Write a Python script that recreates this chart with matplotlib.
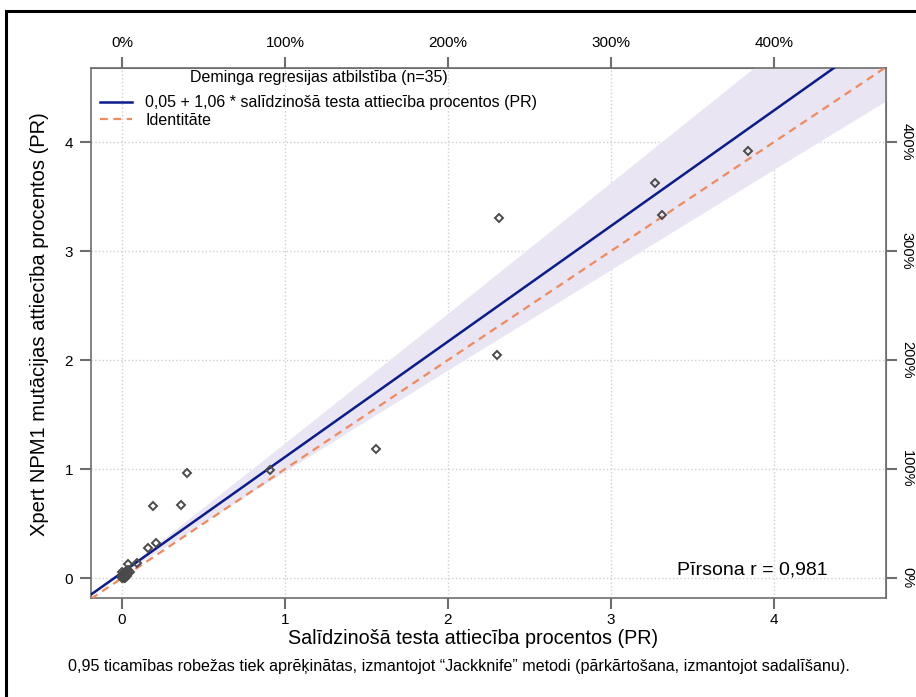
import matplotlib.pyplot as plt
import matplotlib.patches as patches
import numpy as np

# Dati (nolasīti no attēla)
px = [3.84, 3.27, 3.31, 2.31, 2.30, 1.56, 0.91, 0.40, 0.19, 0.36, 0.16, 0.21,
      0.04, 0.09, 0.00, 0.01, 0.02, 0.03, 0.00, 0.01, 0.04, 0.02, 0.05, 0.03,
      0.00, 0.01, 0.02, 0.01, 0.03, 0.00, 0.02, 0.04, 0.01, 0.03, 0.02]
py = [3.92, 3.62, 3.33, 3.30, 2.05, 1.18, 0.99, 0.96, 0.66, 0.67, 0.28, 0.32,
      0.13, 0.14, 0.06, 0.02, 0.03, 0.05, 0.00, 0.04, 0.07, 0.01, 0.06, 0.02,
      0.03, 0.00, 0.04, 0.05, 0.03, 0.01, 0.00, 0.05, 0.02, 0.04, 0.06]

intercept = 0.05
slope = 1.06
ci_x = [-0.2, 0, 1, 2, 3, 4, 4.7]
ci_hi = [-0.15, 0.06, 1.24, 2.43, 3.63, 4.83, 5.67]
ci_lo = [-0.17, 0.04, 0.98, 1.91, 2.83, 3.75, 4.39]

ticks = [0, 1, 2, 3, 4]
pct_labels = ['0%', '100%', '200%', '300%', '400%']

plt.rcParams['font.family'] = ['Liberation Sans', 'DejaVu Sans']

fig = plt.figure(figsize=(9.16, 6.97), dpi=100)
ax = fig.add_axes([91/916, 1-598/697, 795/916, 530/697])

xmin, xmax = -0.19, 4.687
ymin, ymax = -0.183, 4.679

ax.fill_between(ci_x, ci_lo, ci_hi, color='#e9e5f2', lw=0, zorder=1)
xl = np.array([xmin, xmax])
ax.plot(xl, intercept + slope * xl, color='#0b1c8c', lw=1.8, zorder=3,
        label='0,05 + 1,06 * salīdzinošā testa attiecība procentos (PR)')
ax.plot(xl, xl, color='#f08a5d', lw=1.6, ls=(0, (3.5, 2.5)), zorder=3,
        label='Identitāte')
ax.plot(px, py, 'D', ms=4.5, mfc='none', mec='#4a4a4a', mew=1.4, zorder=4)

ax.set_xlim(xmin, xmax)
ax.set_ylim(ymin, ymax)
ax.set_xticks(ticks)
ax.set_yticks(ticks)
ax.grid(True, ls=':', color='#cfcfcf', lw=1)
ax.set_axisbelow(True)

for s in ax.spines.values():
    s.set_color('#6e6e6e')
    s.set_linewidth(1.2)
ax.tick_params(direction='out', length=8, width=1.5, color='#6e6e6e', pad=5,
               labelsize=11)
ax.tick_params(axis='x', pad=3)

top = ax.secondary_xaxis('top')
top.set_xticks(ticks)
top.set_xticklabels(pct_labels, fontsize=11)
top.tick_params(direction='out', length=8, width=1.5, color='#6e6e6e', pad=5)
top.spines['top'].set_color('#6e6e6e')

right = ax.secondary_yaxis('right')
right.set_yticks(ticks)
right.set_yticklabels(pct_labels, fontsize=10.5, rotation=270, va='center')
right.tick_params(direction='out', length=8, width=1.5, color='#6e6e6e', pad=2)
right.spines['right'].set_color('#6e6e6e')

ax.set_xlabel('Salīdzinošā testa attiecība procentos (PR)', fontsize=14.2)
ax.xaxis.set_label_coords((473 - 91) / 795, -(638 - 598) / 530)
ax.xaxis.label.set_va('center')
ax.set_ylabel('Xpert NPM1 mutācijas attiecība procentos (PR)', fontsize=14.5)
ax.yaxis.set_label_coords(-(91 - 40) / 795, 1 - (324 - 68) / 530)
ax.yaxis.label.set_va('center')

leg = ax.legend(loc='upper left', bbox_to_anchor=(7 / 795, 1.0), frameon=False,
                fontsize=11.5, title='Deminga regresijas atbilstība (n=35)',
                title_fontsize=11.5, handlelength=2.0, borderaxespad=0.0,
                borderpad=0.15, labelspacing=0.15)
leg._legend_box.sep = 7

ax.text(0.927, 0.053, 'Pīrsona r = 0,981', transform=ax.transAxes, ha='right',
        va='center', fontsize=14)

fig.text(459 / 916, 1-666/697, '0,95 ticamības robežas tiek aprēķinātas, izmantojot “Jackknife” metodi '
         '(pārkārtošana, izmantojot sadalīšanu).', ha='center', va='center',
         fontsize=11.6)

fig.patches.append(patches.Rectangle((6/916, -0.05), 1.0, 1-11/697+0.05,
                                     transform=fig.transFigure, fill=False,
                                     ec='black', lw=2.2))

fig.savefig('out.png', dpi=100)
